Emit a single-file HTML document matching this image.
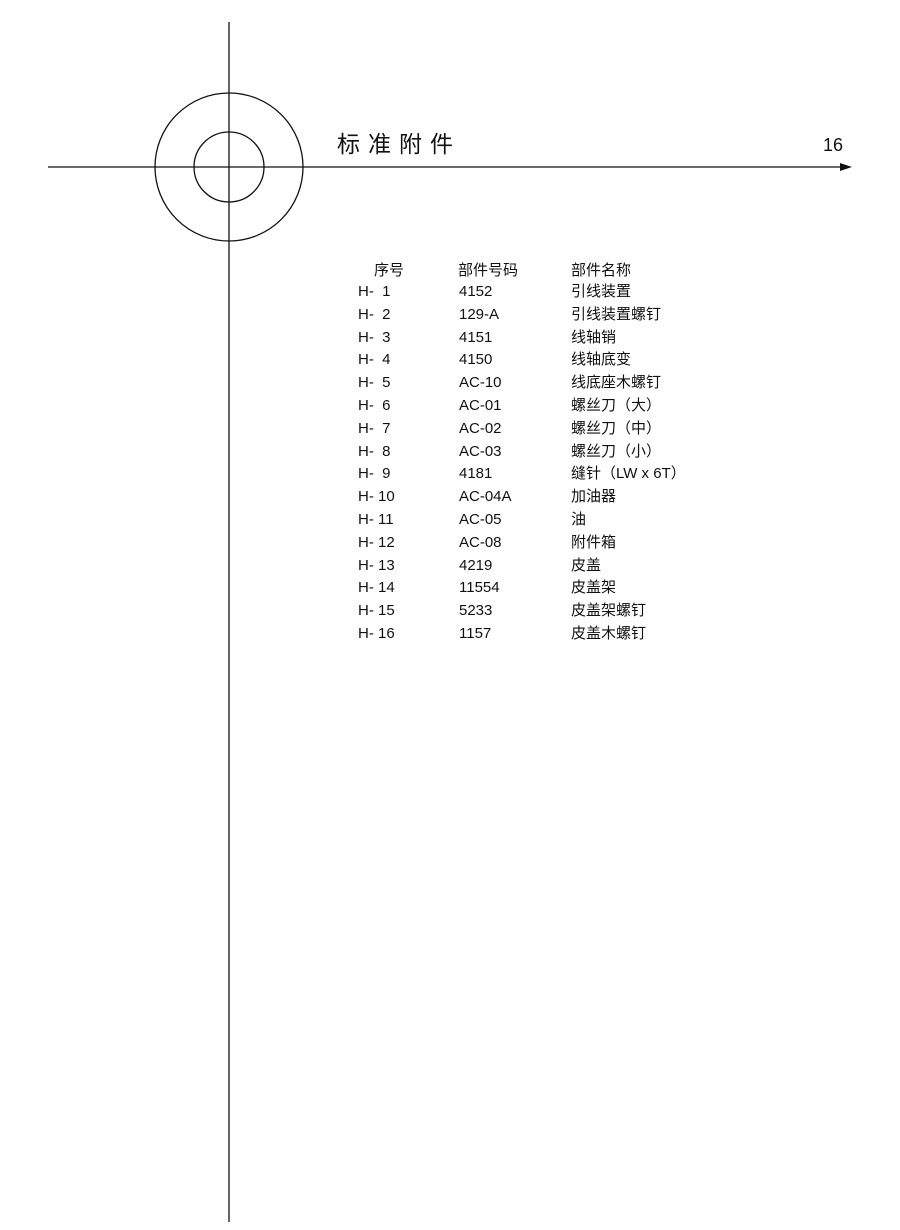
<!DOCTYPE html>
<html><head><meta charset="utf-8"><style>
body{margin:0;background:#fff;}
.p{position:relative;width:900px;height:1230px;overflow:hidden;font-family:"Liberation Sans","Noto Sans CJK SC",sans-serif;color:#111;}
.t{position:absolute;font-size:15px;line-height:18px;white-space:pre;}
.c{line-height:22.8px;}
</style></head><body><div class="p">
<svg width="900" height="1230" style="position:absolute;left:0;top:0">
<line x1="229" y1="22" x2="229" y2="1222" stroke="#111" stroke-width="1.3"/>
<line x1="48" y1="167" x2="846" y2="167" stroke="#111" stroke-width="1.3"/>
<polygon points="852,167 840,163 840,171" fill="#111"/>
<circle cx="229" cy="167" r="74" fill="none" stroke="#111" stroke-width="1.3"/>
<circle cx="229" cy="167" r="35" fill="none" stroke="#111" stroke-width="1.3"/>
</svg>
<div class="t" style="left:337px;top:129px;font-size:23px;line-height:30px;letter-spacing:8px">标准附件</div>
<div class="t" style="left:823px;top:136px;font-size:18px">16</div>
<div class="t" style="left:374px;top:262px">序号</div>
<div class="t" style="left:458px;top:262px">部件号码</div>
<div class="t" style="left:571px;top:262px">部件名称</div>
<div class="t c" style="left:358px;top:281px">H-  1
H-  2
H-  3
H-  4
H-  5
H-  6
H-  7
H-  8
H-  9
H- 10
H- 11
H- 12
H- 13
H- 14
H- 15
H- 16</div>
<div class="t c" style="left:459px;top:281px">4152
129-A
4151
4150
AC-10
AC-01
AC-02
AC-03
4181
AC-04A
AC-05
AC-08
4219
11554
5233
1157</div>
<div class="t c" style="left:571px;top:281px">引线装置
引线装置螺钉
线轴销
线轴底变
线底座木螺钉
螺丝刀（大）
螺丝刀（中）
螺丝刀（小）
缝针（LW x 6T）
加油器
油
附件箱
皮盖
皮盖架
皮盖架螺钉
皮盖木螺钉</div>
</div></body></html>
